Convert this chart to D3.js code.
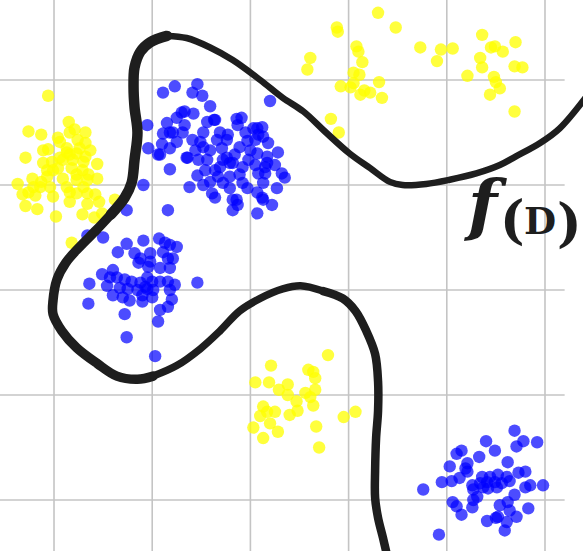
<!DOCTYPE html>
<html>
<head>
<meta charset="utf-8">
<script src="https://cdn.jsdelivr.net/npm/d3@7"></script>
<style>
  html, body { margin: 0; padding: 0; background: #fff; }
  svg { display: block; }
</style>
</head>
<body>
<div id="chart"></div>
<script>
// ---- data (feature space units; grid every 10 units) ----
const xGridTicks = [0, 10, 20, 30, 40, 50];
const yGridTicks = [0, 10, 20, 30, 40];

// class A (yellow) clusters
const yellowLeft = [
  [-0.6,38.5],[1.5,36.0],[-2.6,35.1],[-1.3,34.8],[2.1,35.3],[3.2,35.0],[1.6,35.0],[0.4,34.5],
  [2.4,34.3],[3.2,34.0],[-1.1,33.3],[-0.6,33.4],[1.3,33.5],[3.7,33.3],[-2.9,32.6],[2.3,33.0],
  [0.6,32.6],[1.6,32.9],[-1.1,32.1],[-0.2,32.2],[3.0,32.2],[4.4,32.0],[1.8,31.6],[0.4,31.6],
  [-0.7,31.4],[2.9,31.4],[2.3,31.0],[3.5,31.0],[-0.7,30.8],[-2.2,30.6],[0.9,30.6],[-3.7,30.1],
  [-1.3,30.3],[2.3,30.5],[4.4,30.6],[3.4,30.5],[-3.2,29.1],[-2.6,29.3],[-1.9,29.0],[-0.1,28.9],
  [1.6,29.3],[2.3,29.2],[3.4,29.2],[4.2,29.1],[1.6,28.4],[3.4,28.2],[4.6,28.4],[6.2,28.6],
  [-2.9,28.0],[-1.7,27.7],[2.9,27.2],[4.9,27.3],[4.1,26.9],[0.2,27.0],[1.8,24.5],[1.3,33.1],
  [1.9,32.4],[0.9,32.4],[-0.1,31.4],[3.2,32.7],[2.6,33.5],[0.6,34.1],[-1.4,29.8],[1.3,29.8],
  [3.0,29.8],[-2.1,29.8],[-0.4,29.8]
];
const yellowTop = [
  [33.0,46.4],[28.8,45.0],[28.9,44.6],[34.8,45.0],[26.1,42.1],[25.8,41.0],[30.8,43.2],[31.0,42.7],
  [31.4,41.7],[30.5,40.7],[31.1,40.5],[29.2,39.4],[30.2,39.3],[31.2,38.6],[32.2,38.8],[33.1,39.8],
  [33.4,38.3],[28.2,36.3],[29.0,35.0],[37.3,43.1],[39.4,42.9],[40.6,43.0],[39.0,41.8],[43.6,44.3],
  [44.5,43.1],[44.9,43.2],[45.7,42.7],[47.0,43.6],[43.4,42.1],[43.6,41.2],[42.1,40.4],[46.9,41.3],
  [47.7,41.2],[44.8,40.3],[45.0,39.8],[45.4,39.2],[44.4,38.6],[46.9,37.0],[31.6,39.0],[30.5,39.7]
];
const yellowBottom = [
  [27.9,13.8],[22.1,12.8],[25.9,12.4],[26.4,12.2],[26.6,11.6],[20.5,11.2],[21.9,11.2],[23.8,11.0],
  [22.9,10.5],[26.6,10.5],[23.8,10.0],[25.6,10.2],[26.1,9.8],[24.7,9.4],[26.4,9.0],[21.3,8.9],
  [21.7,8.4],[22.5,8.4],[24.8,8.5],[24.0,8.1],[21.0,8.0],[30.7,8.4],[29.5,7.9],[22.0,7.3],
  [20.3,6.9],[22.8,6.5],[26.7,7.0],[21.3,5.9],[27.0,5.0]
];

// class B (blue) clusters
const blueUpper = [
  [12.3,39.4],[14.6,39.6],[11.1,38.8],[14.1,38.8],[15.1,38.5],[22.0,38.0],[15.9,37.5],[13.3,37.0],
  [14.2,36.8],[13.0,36.9],[12.5,36.4],[11.5,35.9],[9.5,35.7],[15.6,36.0],[16.4,36.2],[18.6,36.3],
  [19.1,36.4],[18.7,35.7],[20.7,35.4],[21.2,35.5],[13.1,35.0],[11.8,35.0],[11.1,34.9],[15.2,35.0],
  [16.9,35.0],[17.7,34.8],[19.5,35.0],[20.8,34.8],[21.3,34.6],[14.1,34.3],[12.5,34.1],[11.0,33.9],
  [14.9,34.1],[16.6,34.3],[19.7,34.2],[21.8,34.0],[20.5,34.3],[9.6,33.5],[11.8,33.5],[10.8,32.9],
  [14.4,33.3],[15.9,33.3],[17.1,33.5],[18.9,33.6],[22.8,33.1],[20.7,33.0],[13.5,32.6],[14.7,32.4],
  [15.6,32.4],[17.6,32.6],[18.4,32.9],[21.7,32.7],[19.8,32.4],[16.9,31.7],[17.9,32.1],[19.2,31.7],
  [20.5,31.9],[21.5,31.7],[11.8,31.5],[14.6,30.9],[23.2,31.1],[23.5,30.7],[16.7,30.8],[17.9,30.8],
  [18.9,31.0],[20.8,31.1],[21.5,31.1],[15.9,30.3],[15.2,30.0],[17.2,30.2],[19.2,30.2],[21.3,30.2],
  [22.7,29.7],[9.1,30.0],[13.8,29.8],[16.1,29.2],[17.9,29.7],[16.4,28.8],[20.7,29.3],[21.2,28.8],
  [18.6,28.6],[18.2,27.6],[22.2,28.1],[20.7,27.3],[11.6,27.6],[18.7,28.1],[19.7,29.7],[17.2,32.4],
  [16.4,31.4],[16.3,36.2],[20.3,35.4],[10.6,32.9],[13.6,32.6],[18.2,32.1],[21.7,32.1],[18.2,28.6],
  [21.3,28.6],[12.1,35.0],[17.6,34.3],[15.2,33.6],[20.0,33.3],[22.5,31.9],[15.4,31.4],[13.3,35.7]
];
const blueLower = [
  [3.4,25.2],[5.0,25.0],[7.4,24.4],[9.1,24.7],[10.7,24.9],[11.3,24.5],[11.8,24.3],[12.5,24.1],
  [6.5,23.6],[8.2,23.5],[9.8,23.5],[11.1,23.6],[11.6,23.0],[12.1,23.0],[8.6,22.6],[9.6,22.2],
  [6.0,21.9],[4.9,21.5],[11.8,22.1],[6.4,21.2],[7.2,21.0],[7.9,20.8],[8.8,20.7],[9.5,21.2],
  [10.0,20.8],[10.8,20.8],[11.6,20.8],[12.3,20.5],[14.6,20.7],[3.6,20.6],[5.4,20.4],[6.7,20.2],
  [7.5,20.1],[8.5,20.0],[9.5,20.1],[10.1,20.0],[11.8,20.0],[6.0,19.5],[7.0,19.3],[9.0,19.5],
  [10.0,19.3],[12.0,19.1],[7.7,19.0],[9.0,18.9],[11.6,18.4],[3.5,18.7],[10.8,18.1],[7.2,17.7],
  [10.6,17.0],[7.4,15.5],[10.3,13.7],[9.3,20.3],[5.7,21.2],[10.8,22.1],[9.8,22.7],[8.8,23.0],
  [7.4,27.6]
];
const blueRight = [
  [46.9,6.6],[47.8,5.6],[47.1,5.1],[49.2,5.5],[44.0,5.6],[44.9,4.7],[41.5,4.7],[41.0,4.4],
  [43.3,4.1],[42.1,3.5],[40.3,3.2],[46.2,3.6],[41.9,3.0],[47.3,2.6],[48.0,2.7],[41.3,2.1],
  [40.5,1.8],[39.5,1.7],[43.6,2.2],[44.4,2.2],[45.2,2.4],[46.1,2.2],[46.4,1.8],[43.4,1.6],
  [44.1,1.7],[44.9,1.7],[45.6,1.6],[42.6,1.4],[48.0,1.2],[48.5,1.4],[49.8,1.4],[37.6,1.0],
  [44.2,1.1],[45.1,1.2],[42.7,1.0],[43.1,0.3],[46.9,0.5],[40.6,-0.2],[41.0,-0.6],[42.6,-0.7],
  [42.7,0.0],[45.4,-0.5],[46.2,-0.2],[46.4,-1.0],[48.3,-0.8],[41.5,-1.4],[47.1,-1.6],[44.1,-2.0],
  [45.0,-1.7],[45.2,-1.6],[46.1,-2.1],[45.9,-2.9],[39.2,-3.3],[42.1,2.7],[43.7,1.2]
];

// decision boundary f(D), traced
const boundary = [
  [54.2,38.4],[51.5,35.4],[49.5,34.0],[47.0,32.7],[45.4,31.9],[43.0,31.1],[40.3,30.5],[37.9,30.1],
  [35.5,30.0],[34.2,30.3],[32.2,31.6],[30.1,33.0],[27.7,35.0],[25.4,37.0],[23.3,38.3],[21.0,40.0],
  [18.2,41.9],[15.9,43.1],[13.5,44.0],[11.5,44.2],[9.8,43.6],[8.8,42.7],[8.2,41.2],[8.1,39.3],
  [8.2,37.4],[8.5,35.0],[8.2,32.4],[7.9,30.2],[7.2,28.8],[5.8,27.2],[4.3,25.7],[2.6,24.1],
  [1.2,22.6],[0.3,21.0],[-0.1,19.0],[-0.1,17.7],[0.8,16.1],[2.3,14.5],[4.4,13.0],[6.4,11.8],
  [8.5,11.5],[10.1,11.8],[12.5,12.8],[14.9,14.4],[16.9,16.1],[18.9,18.0],[21.0,19.2],[23.3,20.1],
  [25.1,20.4],[27.4,19.9],[29.4,19.2],[30.7,18.0],[31.8,16.1],[32.7,13.9],[33.0,11.3],[33.0,8.5],
  [32.8,5.9],[32.7,2.8],[32.7,0.2],[33.0,-1.7],[33.5,-3.6],[33.9,-5.2]
];
const boundaryLabel = ["f", "(", "D", ")"];

// ---- drawing ----
const W = 583, H = 551;
const svg = d3.select("#chart").append("svg").attr("width", W).attr("height", H);

const x = d3.scaleLinear().domain([-5.5, 53.87]).range([0, W]);
const y = d3.scaleLinear().domain([-4.857, 47.619]).range([H, 0]);

// grid
const grid = svg.append("g").attr("stroke", "#c4c4c4").attr("stroke-width", 1.6);
grid.selectAll("line.v").data(xGridTicks).join("line")
  .attr("class", "v")
  .attr("x1", d => x(d)).attr("x2", d => x(d))
  .attr("y1", 0).attr("y2", H);
grid.selectAll("line.h").data(yGridTicks).join("line")
  .attr("class", "h")
  .attr("x1", 0).attr("x2", x(52))
  .attr("y1", d => y(d)).attr("y2", d => y(d));

// points
const r = 6.2;
const yellow = yellowLeft.concat(yellowTop, yellowBottom);
const blue = blueUpper.concat(blueLower, blueRight);

svg.append("g").selectAll("circle").data(yellow).join("circle")
  .attr("cx", d => x(d[0])).attr("cy", d => y(d[1])).attr("r", r)
  .attr("fill", "#ffff00").attr("fill-opacity", 0.76);

svg.append("g").selectAll("circle").data(blue).join("circle")
  .attr("cx", d => x(d[0])).attr("cy", d => y(d[1])).attr("r", r)
  .attr("fill", "#0000ff").attr("fill-opacity", 0.7);

// boundary curve, hand-drawn feel: varying stroke width by stretch
const line = d3.line().x(d => x(d[0])).y(d => y(d[1])).curve(d3.curveCatmullRom.alpha(0.5));
const pieces = [
  { from: 0,  to: 20, w: 6.5 },
  { from: 19, to: 30, w: 10.5 },
  { from: 29, to: 42, w: 9.5 },
  { from: 41, to: 50, w: 7.5 },
  { from: 49, to: boundary.length, w: 8.5 }
];
const bg = svg.append("g").attr("fill", "none").attr("stroke", "#1e1e1e")
  .attr("stroke-linecap", "round").attr("stroke-linejoin", "round");
pieces.forEach(p => {
  bg.append("path").attr("d", line(boundary.slice(p.from, p.to))).attr("stroke-width", p.w);
});

// label
const lbl = svg.append("text")
  .attr("fill", "#1e1e1e")
  .attr("font-family", "DejaVu Serif, serif")
  .attr("font-weight", "bold");
const glyphStyle = [
  { x: 468, y: 228, size: 68, italic: true },
  { x: 500, y: 238, size: 52, italic: false },
  { x: 524, y: 234, size: 37, italic: false },
  { x: 557, y: 241, size: 52, italic: false }
];
boundaryLabel.forEach((t, i) => {
  const g = glyphStyle[i];
  lbl.append("tspan").attr("x", g.x).attr("y", g.y).attr("font-size", g.size)
    .attr("font-style", g.italic ? "italic" : "normal").text(t);
});
</script>
</body>
</html>
